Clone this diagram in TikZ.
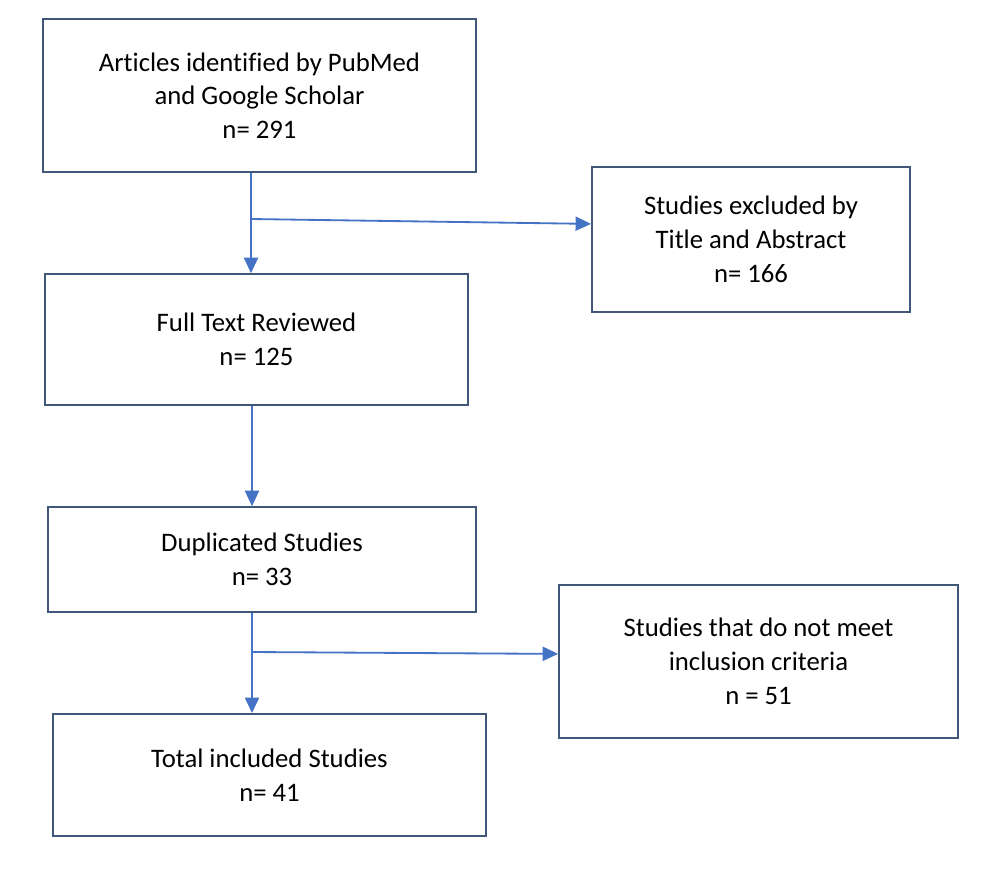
\documentclass[tikz,border=0pt]{standalone}
\usepackage{fontspec}
\setmainfont[Ligatures=NoCommon]{Carlito}
\usetikzlibrary{arrows.meta,calc}
\definecolor{boxline}{HTML}{41577A}
\definecolor{flowblue}{HTML}{4472C4}

\tikzset{
	box/.style={draw=boxline, line width=1.3pt, rectangle, align=center,
		font=\fontsize{19}{24}\selectfont, inner sep=0pt},
	flow/.style={draw=flowblue, line width=1.3pt,
		-{Triangle[length=11pt, width=10pt]}}
}

\begin{document}
\begin{tikzpicture}[x=0.025cm, y=-0.025cm]
	\useasboundingbox (0,0) rectangle (986,871);
	% boxes
	\node[box, minimum width=10.82cm, minimum height=3.82cm] (ident) at (259.5,95.5)
		{Articles identified by PubMed\\and Google Scholar\\n= 291};
	\node[box, minimum width=7.95cm, minimum height=3.62cm] (excl) at (751,239.5)
		{Studies excluded by\\Title and Abstract\\n= 166};
	\node[box, minimum width=10.57cm, minimum height=3.27cm] (full) at (256.5,339.5)
		{Full Text Reviewed\\n= 125};
	\node[box, minimum width=10.7cm, minimum height=2.62cm] (dupl) at (262,559.5)
		{Duplicated Studies\\n= 33};
	\node[box, minimum width=9.97cm, minimum height=3.82cm] (crit) at (758.5,661.5)
		{Studies that do not meet\\inclusion criteria\\n = 51};
	\node[box, minimum width=10.82cm, minimum height=3.05cm] (incl) at (269.5,775)
		{Total included Studies\\n= 41};
	% connectors
	\coordinate (j1) at (251,219);
	\coordinate (j2) at (252,652);
	\draw[flow] (ident.south -| j1) -- (full.north -| j1);
	\draw[flow] (j1) -- ([yshift=0.39cm]excl.west);
	\draw[flow] (full.south -| j2) -- (dupl.north -| j2);
	\draw[flow] (dupl.south -| j2) -- (incl.north -| j2);
	\draw[flow] (j2) -- ([yshift=0.19cm]crit.west);
\end{tikzpicture}
\end{document}
